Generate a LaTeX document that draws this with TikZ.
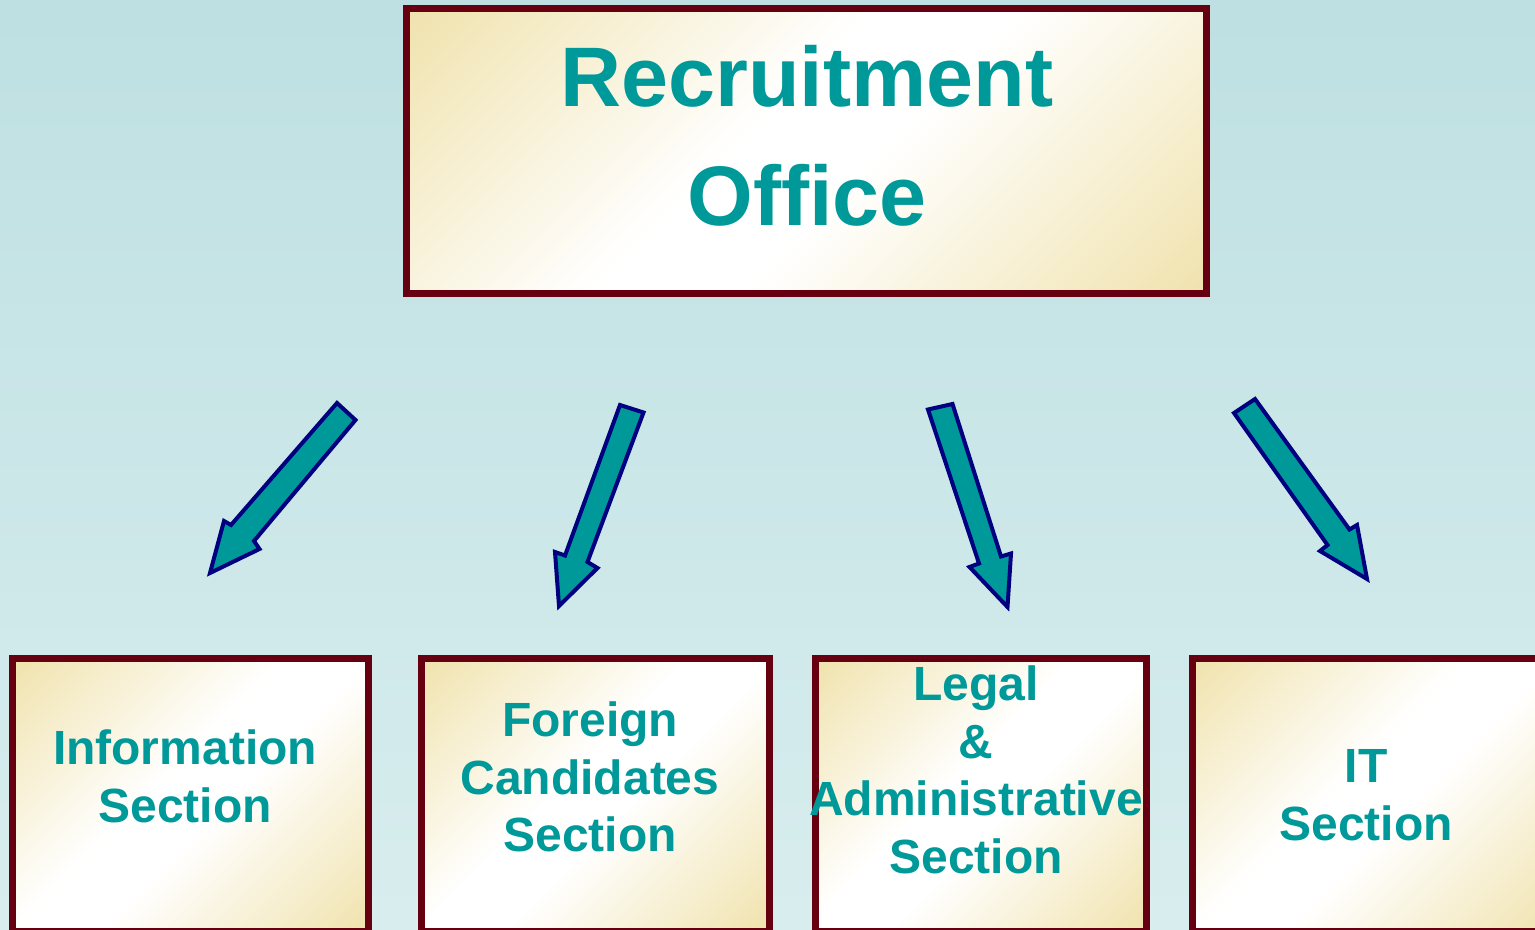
\documentclass[tikz,border=0pt]{standalone}
\usepackage{fontspec}
\setmainfont{Liberation Sans}
\definecolor{bgtop}{RGB}{190,224,226}
\definecolor{bgbot}{RGB}{216,237,238}
\definecolor{gold}{RGB}{239,224,166}
\definecolor{framecol}{RGB}{102,0,17}
\definecolor{tealtext}{RGB}{0,153,153}
\definecolor{navyline}{RGB}{0,0,128}
\pgfdeclareverticalshading{goldwhite}{100bp}{color(0bp)=(gold); color(12bp)=(gold);
  color(45bp)=(white); color(55bp)=(white); color(88bp)=(gold); color(100bp)=(gold)}
\begin{document}
\begin{tikzpicture}[x=0.5pt,y=-0.5pt,
  box/.style={draw=framecol, line width=3.5pt, shading=goldwhite, shading angle=45,
    inner sep=0pt, outer sep=0pt},
  titletext/.style={text=tealtext, font=\bfseries\fontsize{42.25}{59.5}\selectfont, align=center},
  sectext/.style={text=tealtext, font=\bfseries\fontsize{24}{28.75}\selectfont, align=center},
  blockarrow/.style={draw=navyline, fill=tealtext, line width=2pt, line join=miter}]
\useasboundingbox (0,0) rectangle (1535,930);
\clip (0,0) rectangle (1535,930);
\shade[top color=bgtop, bottom color=bgbot] (0,0) rectangle (1535,930);

% top box
\node[box, minimum width=400pt, minimum height=142.5pt] (office) at (806.5,151) {};
\node[titletext] (officetext) at (807,136) {Recruitment\\Office};

% bottom boxes
\node[box, minimum width=178pt, minimum height=136.4pt] (info) at (190.5,795.1) {};
\node[box, minimum width=174pt, minimum height=136.4pt] (foreign) at (595.3,795.1) {};
\node[box, minimum width=165.75pt, minimum height=136.4pt] (legal) at (980.75,795.1) {};
\node[box, minimum width=183.75pt, minimum height=136.4pt] (it) at (1376,795.1) {};

\node[sectext] (infotext) at (185,776.5) {Information\\Section};
\node[sectext] (foreigntext) at (590,777) {Foreign\\Candidates\\Section};
\node[sectext] (legaltext) at (976,770) {Legal\\\&\\Administrative\\Section};
\node[sectext] (ittext) at (1366,795) {IT\\Section};

% block arrows
\draw[blockarrow] (337,403) -- (355.5,420) -- (254,541) -- (259.5,549) -- (210,573)
  -- (224,521) -- (231,525) -- cycle;
\draw[blockarrow] (620,405) -- (643.5,412.5) -- (587.5,562) -- (597.5,568) -- (559,606)
  -- (555,552) -- (565,555.5) -- cycle;
\draw[blockarrow] (928,409.5) -- (952.5,404) -- (1001,556.5) -- (1011,553.5) -- (1007.5,607)
  -- (969.5,567) -- (979,563.5) -- cycle;
\draw[blockarrow] (1234,413) -- (1255,399) -- (1349.5,529.5) -- (1357,525) -- (1367,579)
  -- (1320,551) -- (1327.5,545) -- cycle;
\end{tikzpicture}
\end{document}
